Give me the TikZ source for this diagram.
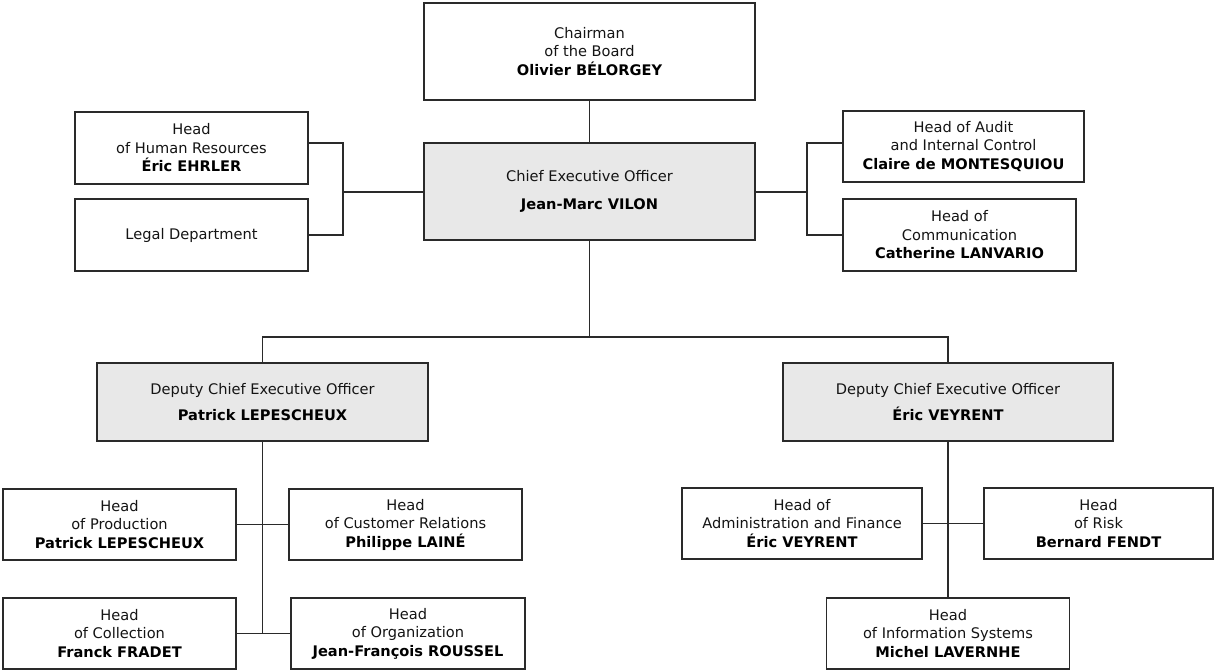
\documentclass[tikz,border=0pt]{standalone}
\usepackage{fontspec}
\setmainfont{DejaVu Sans}
\definecolor{boxgray}{HTML}{E8E8E8}
\definecolor{linegray}{HTML}{2A2A2A}
\definecolor{txtgray}{HTML}{141414}
\begin{document}
\begin{tikzpicture}[x=1pt,y=-1pt,
  orgbox/.style={draw=linegray,line width=1.4pt,fill=white,inner sep=0pt,outer sep=0pt,
    align=center,text=txtgray,font=\fontsize{14.6}{18.5}\selectfont},
  graybox/.style={orgbox,fill=boxgray},
  conn/.style={draw=linegray,line width=1.4pt}]
\useasboundingbox (0,0) rectangle (1214,670);
\newcommand{\nm}[1]{\textbf{\color{black}#1}}
% top
\node[orgbox,minimum width=331pt,minimum height=97pt] (chair) at (589.5,51.5) {Chairman\\of the Board\\\nm{Olivier BÉLORGEY}};
\node[graybox,minimum width=331pt,minimum height=97pt] (ceo) at (589.5,191.5) {Chief Executive Officer\\[10pt]\nm{Jean-Marc VILON}};
% left staff
\node[orgbox,minimum width=233pt,minimum height=72pt] (hr) at (191.5,148) {Head\\of Human Resources\\\nm{Éric EHRLER}};
\node[orgbox,minimum width=233pt,minimum height=72pt] (legal) at (191.5,235) {Legal Department};
% right staff
\node[orgbox,minimum width=241pt,minimum height=71pt] (audit) at (963.5,146.5) {Head of Audit\\and Internal Control\\\nm{Claire de MONTESQUIOU}};
\node[orgbox,minimum width=233pt,minimum height=72pt] (comm) at (959.5,235) {Head of\\Communication\\\nm{Catherine LANVARIO}};
% deputies
\node[graybox,minimum width=331pt,minimum height=78pt] (dep1) at (262.5,402) {Deputy Chief Executive Officer\\[8pt]\nm{Patrick LEPESCHEUX}};
\node[graybox,minimum width=330pt,minimum height=78pt] (dep2) at (948,402) {Deputy Chief Executive Officer\\[8pt]\nm{Éric VEYRENT}};
% left branch
\node[orgbox,minimum width=233pt,minimum height=71pt] (prod) at (119.5,524.5) {Head\\of Production\\\nm{Patrick LEPESCHEUX}};
\node[orgbox,minimum width=233pt,minimum height=71pt] (cust) at (405.5,524.5) {Head\\of Customer Relations\\\nm{Philippe LAINÉ}};
\node[orgbox,minimum width=233pt,minimum height=71pt] (coll) at (119.5,633.5) {Head\\of Collection\\\nm{Franck FRADET}};
\node[orgbox,minimum width=234pt,minimum height=71pt] (org) at (408,633.5) {Head\\of Organization\\\nm{Jean-François ROUSSEL}};
% right branch
\node[orgbox,minimum width=240pt,minimum height=71pt] (admin) at (802,523.5) {Head of\\Administration and Finance\\\nm{Éric VEYRENT}};
\node[orgbox,minimum width=229pt,minimum height=71pt] (risk) at (1098.5,523.5) {Head\\of Risk\\\nm{Bernard FENDT}};
\node[orgbox,minimum width=243pt,minimum height=71pt] (info) at (948,633.5) {Head\\of Information Systems\\\nm{Michel LAVERNHE}};
% junctions
\coordinate (jl) at (343,192);
\coordinate (jr) at (807,192);
\coordinate (jm) at (589.5,337);
\coordinate (jb) at (262.5,633.5);
% connectors
\draw[conn] (chair.south) -- (ceo.north);
\draw[conn] ([yshift=5pt]hr.east) -| (jl);
\draw[conn] (legal.east) -| (jl);
\draw[conn] (jl) -- (jl -| ceo.west);
\draw[conn] (jr -| ceo.east) -- (jr);
\draw[conn] (jr) |- ([yshift=3.5pt]audit.west);
\draw[conn] (jr) |- (comm.west);
\draw[conn] (ceo.south) -- (jm);
\draw[conn] (dep1.north) |- (jm) -| (dep2.north);
\draw[conn] (dep1.south) -- (jb);
\draw[conn] (prod.east) -- (cust.west);
\draw[conn] (coll.east) -- (org.west);
\draw[conn] (dep2.south) -- (info.north);
\draw[conn] (admin.east) -- (risk.west);
\end{tikzpicture}
\end{document}
